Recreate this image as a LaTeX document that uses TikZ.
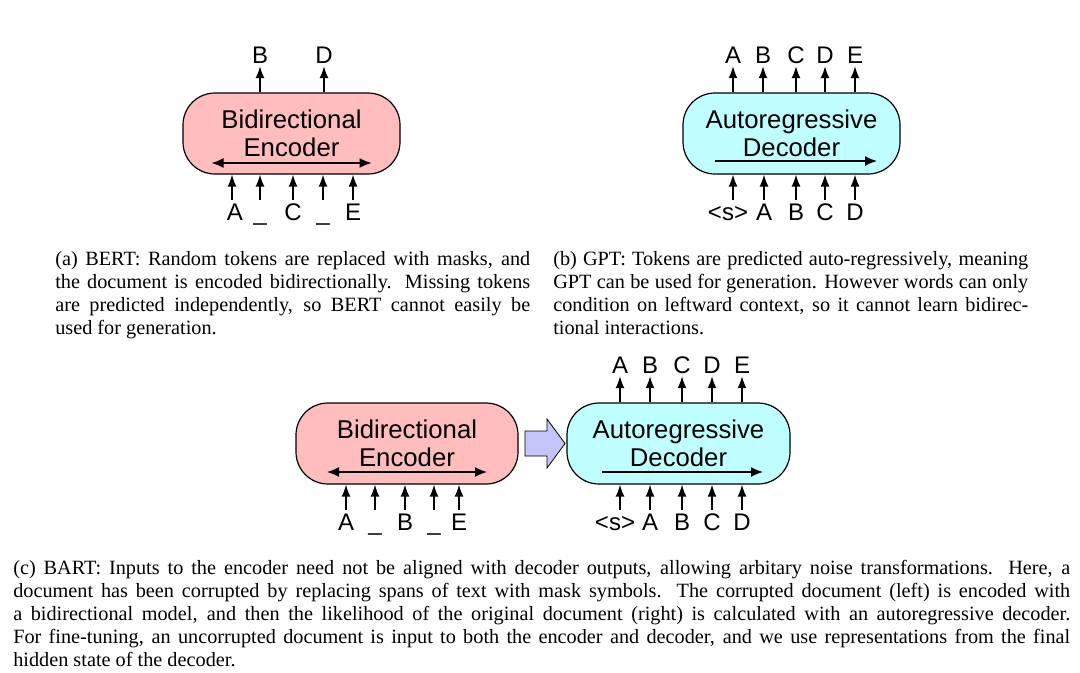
\documentclass[tikz,border=0pt]{standalone}
\usepackage{fontspec}
\setmainfont{Liberation Serif}
\newfontfamily\diagfont{Liberation Sans}
\usetikzlibrary{arrows.meta,calc}
\definecolor{encpink}{RGB}{255,189,189}
\definecolor{deccyan}{RGB}{191,255,255}
\definecolor{bigarrow}{RGB}{197,197,250}
\begin{document}
\begin{tikzpicture}[x=0.75pt,y=-0.75pt,
  model/.style={draw=black, line width=0.9pt, rounded corners=24pt,
    minimum width=162.75pt, minimum height=60.75pt, align=center,
    font=\diagfont\fontsize{19.3}{21}\selectfont, inner sep=0pt},
  tok/.style={font=\diagfont\fontsize{18}{20}\selectfont, anchor=base,
    inner xsep=0pt, inner ysep=2.2pt, text height=12.9pt, text depth=0pt},
  arr/.style={line width=1.1pt, -{Latex[length=9pt,width=6.75pt]}},
  inarr/.style={line width=1.1pt, -{Latex[length=9pt,width=7.5pt]}},
  biarr/.style={line width=1.1pt, {Latex[length=9pt,width=7.5pt]}-{Latex[length=9pt,width=7.5pt]}},
  captext/.style={anchor=base west, inner sep=0pt, align=left,
    font=\fontsize{15.2}{17.25}\selectfont}]
\useasboundingbox (0,0) rectangle (1080,672);

% ---------- (a) BERT ----------
\node[model, fill=encpink] (enc1) at (291.5,133.5) {Bidirectional\\Encoder};
\draw[biarr] ([shift={(-80,29.5)}]enc1.center) -- ([shift={(80,29.5)}]enc1.center);
\node[tok] (ob1) at (260,63) {B};
\node[tok] (ob2) at (324,63) {D};
\foreach \n in {ob1,ob2} \draw[arr] (\n.south |- enc1.north) -- (\n.south);
\node[tok] (ib1) at (235,220) {A};
\node[tok] (ib2) at (260,220) {\_};
\node[tok] (ib3) at (293,220) {C};
\node[tok] (ib4) at (323,220) {\_};
\node[tok] (ib5) at (353,220) {E};
\foreach \n in {ib2,ib3,ib4,ib5} \draw[arr] (\n.north) -- (\n.north |- enc1.south);
\draw[arr] ([xshift=-2.25pt]ib1.north) -- ([xshift=-2.25pt]ib1.north |- enc1.south);

% ---------- (b) GPT ----------
\node[model, fill=deccyan] (dec1) at (791.5,133.5) {Autoregressive\\Decoder};
\draw[inarr] ([shift={(-76.5,27.5)}]dec1.center) -- ([shift={(85.5,27.5)}]dec1.center);
\node[tok] (og1) at (733,63) {A};
\node[tok] (og2) at (763,63) {B};
\node[tok] (og3) at (796,63) {C};
\node[tok] (og4) at (825,63) {D};
\node[tok] (og5) at (855,63) {E};
\foreach \n in {og1,og2,og3,og4,og5} \draw[arr] (\n.south |- dec1.north) -- (\n.south);
\node[tok] (ig1) at (728,220) {<s>};
\node[tok] (ig2) at (764,220) {A};
\node[tok] (ig3) at (796,220) {B};
\node[tok] (ig4) at (825,220) {C};
\node[tok] (ig5) at (855,220) {D};
\draw[arr] ([xshift=3.75pt]ig1.north) -- ([xshift=3.75pt]ig1.north |- dec1.south);
\foreach \n in {ig2,ig3,ig4,ig5} \draw[arr] (\n.north) -- (\n.north |- dec1.south);

% ---------- captions (a), (b) (anchored at last baseline) ----------
\node[captext] (capa) at (55,334) {%
\makebox[356.25pt][s]{(a) BERT: Random tokens are replaced with masks, and}\\
\makebox[356.25pt][s]{the document is encoded bidirectionally. Missing tokens}\\
\makebox[356.25pt][s]{are predicted independently, so BERT cannot easily be}\\
used for generation.};
\node[captext] (capb) at (553,334) {%
\makebox[356.25pt][s]{(b) GPT: Tokens are predicted auto-regressively, meaning}\\
\makebox[356.25pt][s]{GPT can be used for generation. However words can only}\\
\makebox[356.25pt][s]{condition on leftward context, so it cannot learn bidirec-}\\
tional interactions.};

% ---------- (c) BART ----------
\node[model, fill=encpink, minimum width=166.5pt] (enc3) at (407,443.5) {Bidirectional\\Encoder};
\draw[biarr] ([shift={(-80,28.5)}]enc3.center) -- ([shift={(80,28.5)}]enc3.center);
\node[tok] (ie1) at (346,530) {A};
\node[tok] (ie2) at (375,530) {\_};
\node[tok] (ie3) at (405,530) {B};
\node[tok] (ie4) at (434,530) {\_};
\node[tok] (ie5) at (459,530) {E};
\foreach \n in {ie1,ie2,ie3,ie4,ie5} \draw[arr] (\n.north) -- (\n.north |- enc3.south);

\node[model, fill=deccyan, minimum width=167.25pt] (dec4) at (678.5,443.5) {Autoregressive\\Decoder};
\draw[inarr] ([shift={(-76.5,28.5)}]dec4.center) -- ([shift={(84.5,28.5)}]dec4.center);
\node[tok] (od1) at (620,373) {A};
\node[tok] (od2) at (650,373) {B};
\node[tok] (od3) at (682,373) {C};
\node[tok] (od4) at (712,373) {D};
\node[tok] (od5) at (742,373) {E};
\foreach \n in {od1,od2,od3,od4,od5} \draw[arr] (\n.south |- dec4.north) -- (\n.south);
\node[tok] (id1) at (615,530) {<s>};
\node[tok] (id2) at (650,530) {A};
\node[tok] (id3) at (682,530) {B};
\node[tok] (id4) at (712,530) {C};
\node[tok] (id5) at (742,530) {D};
\draw[arr] ([xshift=3.75pt]id1.north) -- ([xshift=3.75pt]id1.north |- dec4.south);
\foreach \n in {id2,id3,id4,id5} \draw[arr] (\n.north) -- (\n.north |- dec4.south);

% block arrow between encoder and decoder
\coordinate (ba) at ($(enc3.east)!0.5!(dec4.west)$);
\draw[fill=bigarrow, line width=0.6pt, line join=miter]
  ([shift={(-17.5,-12.5)}]ba) -- ([shift={(4.5,-12.5)}]ba) -- ([shift={(4.5,-24.5)}]ba)
  -- ([shift={(22.5,0)}]ba) -- ([shift={(4.5,24.5)}]ba) -- ([shift={(4.5,12.5)}]ba)
  -- ([shift={(-17.5,12.5)}]ba) -- cycle;

% caption (c) (anchored at last baseline)
\node[captext] (capc) at (13,666) {%
\makebox[792.75pt][s]{(c) BART: Inputs to the encoder need not be aligned with decoder outputs, allowing arbitary noise transformations. Here, a}\\
\makebox[792.75pt][s]{document has been corrupted by replacing spans of text with mask symbols. The corrupted document (left) is encoded with}\\
\makebox[792.75pt][s]{a bidirectional model, and then the likelihood of the original document (right) is calculated with an autoregressive decoder.}\\
\makebox[792.75pt][s]{For fine-tuning, an uncorrupted document is input to both the encoder and decoder, and we use representations from the final}\\
hidden state of the decoder.};
\end{tikzpicture}
\end{document}
